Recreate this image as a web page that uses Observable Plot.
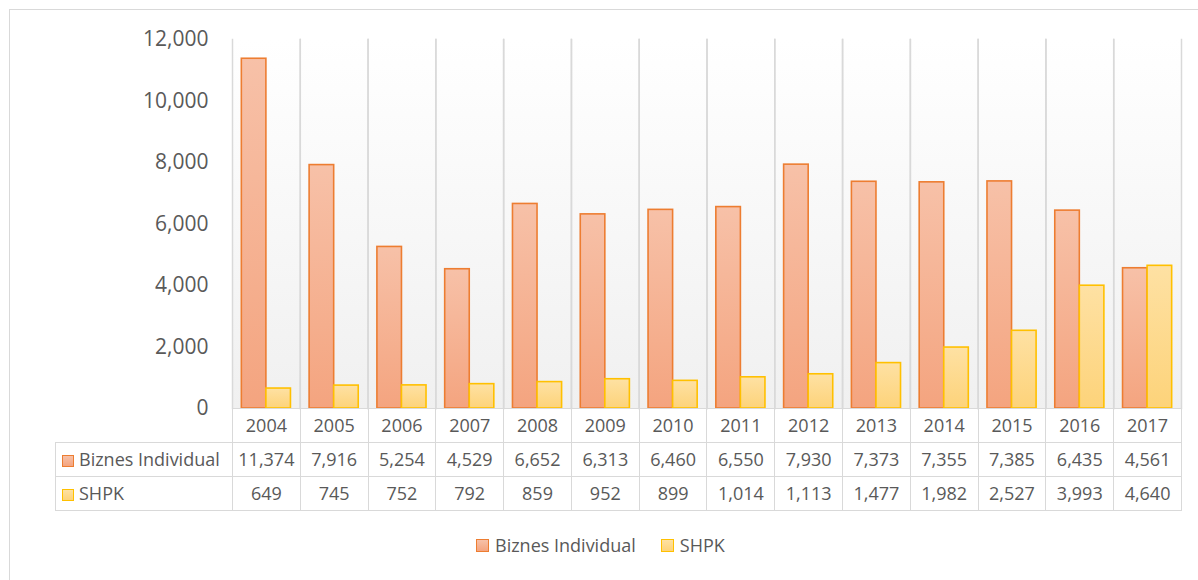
<!DOCTYPE html>
<html>
<head>
<meta charset="utf-8">
<script src="https://cdn.jsdelivr.net/npm/d3@7"></script>
<script src="https://cdn.jsdelivr.net/npm/@observablehq/plot@0.6"></script>
<style>
  html, body { margin: 0; padding: 0; background: #fff; }
  #wrap { position: relative; width: 1198px; height: 580px; overflow: hidden; font-family: "Open Sans", sans-serif; color: #595959; }
  #chart { position: absolute; left: 0; top: 0; }
  #border { position: absolute; left: 9px; top: 9px; width: 1200px; height: 600px; border-top: 1.5px solid #d9d9d9; border-left: 1.5px solid #d9d9d9; pointer-events: none; }
  table.dt { position: absolute; left: 55px; top: 408px; border-collapse: collapse; table-layout: fixed; font-size: 18px; color: #595959; }
  table.dt td { border: 1.5px solid #d9d9d9; height: 33px; padding: 0; text-align: center; white-space: nowrap; line-height: 33px; overflow: hidden; }
  table.dt td.lab { text-align: left; padding-left: 6px; }
  table.dt td.blank { border-left: none; border-top: none; }
  .sw { display: inline-block; width: 10px; height: 10px; vertical-align: -1px; margin-right: 5px; border: 1.5px solid; }
  #legend { position: absolute; top: 533px; left: 476px; display: flex; align-items: center; font-size: 18px; color: #595959; }
  #legend .item { display: flex; align-items: center; margin-right: 25px; }
  #legend .sw { width: 11px; height: 11px; margin-right: 6px; vertical-align: 0; }
</style>
</head>
<body>
<svg width="0" height="0" style="position:absolute">
  <defs>
    <linearGradient id="gBiz" x1="0" y1="0" x2="0" y2="1">
      <stop offset="0" stop-color="#f7c1a8"/>
      <stop offset="1" stop-color="#f4a47f"/>
    </linearGradient>
    <linearGradient id="gShpk" x1="0" y1="0" x2="0" y2="1">
      <stop offset="0" stop-color="#fee1a3"/>
      <stop offset="1" stop-color="#fdd37a"/>
    </linearGradient>
    <linearGradient id="gBg" x1="0" y1="0" x2="0" y2="1">
      <stop offset="0" stop-color="#ffffff"/>
      <stop offset="1" stop-color="#f0f0f0"/>
    </linearGradient>
  </defs>
</svg>
<div id="wrap">
  <div id="chart"></div>
  <div id="tablehost"></div>
  <div id="legend"></div>
  <div id="border"></div>
</div>
<script>
// ---- data ----
const years = ["2004","2005","2006","2007","2008","2009","2010","2011","2012","2013","2014","2015","2016","2017"];
const seriesNames = ["Biznes Individual", "SHPK"];
const biznesIndividual = [11374, 7916, 5254, 4529, 6652, 6313, 6460, 6550, 7930, 7373, 7355, 7385, 6435, 4561];
const shpk = [649, 745, 752, 792, 859, 952, 899, 1014, 1113, 1477, 1982, 2527, 3993, 4640];
const yTicks = [0, 2000, 4000, 6000, 8000, 10000, 12000];

const seriesFill = ["url(#gBiz)", "url(#gShpk)"];
const seriesStroke = ["#ed7d31", "#ffc000"];
const cssGrad = ["linear-gradient(#f7c1a8,#f4a47f)", "linear-gradient(#fee1a3,#fdd37a)"];

const rows = [];
years.forEach((y, i) => {
  rows.push({year: y, series: seriesNames[0], value: biznesIndividual[i]});
  rows.push({year: y, series: seriesNames[1], value: shpk[i]});
});

const fmt = d3.format(",");

// ---- chart ----
const W = 1198, H = 580;
const mLeft = 232, mRight = 17, mTop = 39, mBottom = 172;
const tableLeft = 55;

const chart = Plot.plot({
  width: W,
  height: H,
  marginLeft: mLeft,
  marginRight: mRight,
  marginTop: mTop,
  marginBottom: mBottom,
  style: {fontFamily: "Open Sans, sans-serif", fontSize: "21px", color: "#595959", background: "transparent"},
  fx: {domain: years, padding: 0, round: false, axis: null, label: null},
  x: {domain: seriesNames, paddingInner: 0, paddingOuter: 0.38, round: false, axis: null, label: null},
  y: {domain: [0, 12000], axis: null, label: null},
  marks: [
    Plot.frame({fill: "url(#gBg)", stroke: "none"}),
    Plot.frame({anchor: "left", stroke: "#d9d9d9", strokeWidth: 1.5}),
    Plot.frame({anchor: "right", stroke: "#d9d9d9", strokeWidth: 1.5}),
    ...seriesNames.map((s, k) =>
      Plot.barY(rows.filter(d => d.series === s), {
        fx: "year", x: "series", y: "value",
        fill: seriesFill[k], stroke: seriesStroke[k], strokeWidth: 1.6
      })
    ),
    Plot.axisY({ticks: yTicks, tickFormat: fmt, tickSize: 0, tickPadding: 24, label: null, fontSize: 21})
  ]
});
document.getElementById("chart").appendChild(chart);

// ---- data table ----
const colW = (W - mLeft - mRight) / years.length;
const table = d3.select("#tablehost").append("table").attr("class", "dt")
  .style("width", (W - mRight - tableLeft) + "px");
const cg = table.append("colgroup");
cg.append("col").style("width", (mLeft - tableLeft) + "px");
years.forEach(() => cg.append("col").style("width", colW + "px"));
const head = table.append("tr");
head.append("td").attr("class", "blank");
years.forEach(y => head.append("td").text(y));
[biznesIndividual, shpk].forEach((vals, k) => {
  const tr = table.append("tr");
  const lab = tr.append("td").attr("class", "lab");
  lab.append("span").attr("class", "sw").style("background", cssGrad[k]).style("border-color", seriesStroke[k]);
  lab.append("span").text(seriesNames[k]);
  vals.forEach(v => tr.append("td").text(fmt(v)));
});

// ---- legend ----
const legend = d3.select("#legend");
seriesNames.forEach((s, k) => {
  const it = legend.append("div").attr("class", "item");
  it.append("span").attr("class", "sw").style("background", cssGrad[k]).style("border-color", seriesStroke[k]);
  it.append("span").text(s);
});
</script>
</body>
</html>
